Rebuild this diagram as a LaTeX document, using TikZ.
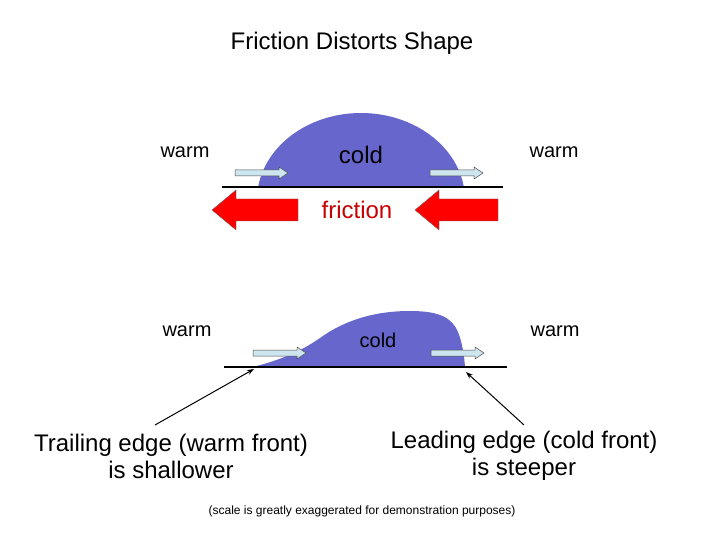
\documentclass[tikz,border=0pt]{standalone}
\usepackage{fontspec}
\setmainfont{Liberation Sans}
\usetikzlibrary{arrows.meta}
\definecolor{blob}{RGB}{102,102,204}
\definecolor{pale}{RGB}{204,229,238}
\definecolor{fred}{RGB}{255,0,0}
\definecolor{ftext}{RGB}{200,0,0}
\tikzset{
  lbl/.style={font=\fontsize{20}{24}\selectfont, inner sep=0pt},
  big/.style={font=\fontsize{24}{27}\selectfont, align=center, inner sep=0pt},
  ground/.style={line width=2.5pt},
  wind/.style={fill=pale, draw=black!70, line width=0.5pt},
  redarr/.style={fill=fred, draw=black!60, line width=0.4pt},
  pointer/.style={-{Stealth[length=7pt,width=5pt]}, line width=1pt}
}
\newcommand{\windarrow}[2]{% x,y left end
  \draw[wind] (#1,#2-3) -- (#1+44,#2-3) -- (#1+44,#2-6) -- (#1+53,#2) -- (#1+44,#2+6) -- (#1+44,#2+3) -- (#1,#2+3) -- cycle;}
\newcommand{\redarrow}[3]{% left tip x, right x, y
  \draw[redarr] (#1,#3) -- (#1+24,#3-20) -- (#1+24,#3-11) -- (#2,#3-11) -- (#2,#3+11) -- (#1+24,#3+11) -- (#1+24,#3+20) -- cycle;}
\begin{document}
\begin{tikzpicture}[x=1pt,y=-1pt]
\useasboundingbox (0,0) rectangle (720,540);
\node[big] (title) at (352,43) {Friction Distorts Shape};
% top dome
\begin{scope}
\clip (200,100) rectangle (520,187);
\fill[blob] (361,200) ellipse [x radius=104, y radius=87];
\end{scope}
\draw[ground] (222,187) coordinate (g1a) -- (503,187) coordinate (g1b);
\windarrow{235}{173}
\windarrow{430}{173}
\redarrow{212}{298}{210}
\redarrow{415}{498}{210}
\node[lbl] (w1) at (185,152) {warm};
\node[lbl, font=\fontsize{24}{27}\selectfont] (c1) at (361,155) {cold};
\node[lbl] (w2) at (554,152) {warm};
\node[lbl, text=ftext, font=\fontsize{24}{27}\selectfont] (fr) at (357,210) {friction};
% bottom shape
\fill[blob] (253,367) .. controls (280,360) and (300,352) .. (320,338)
  .. controls (345,320) and (375,311) .. (410,311)
  .. controls (440,311) and (452,318) .. (458,332)
  .. controls (462,342) and (464,354) .. (465,367) -- cycle;
\draw[ground] (224,367) coordinate (g2a) -- (507,367) coordinate (g2b);
\windarrow{253}{353}
\windarrow{431}{353}
\node[lbl] (w3) at (187,331) {warm};
\node[lbl] (c2) at (378,340) {cold};
\node[lbl] (w4) at (555,331) {warm};
\node[big] (trail) at (171,456) {Trailing edge (warm front)\\is shallower};
\node[big] (lead) at (524,456) {Leading edge (cold front)\\is steeper};
\coordinate (te) at (254,369);
\coordinate (le) at (466,372);
\draw[pointer] (155,425) -- (te);
\draw[pointer] (524,425) -- (le);
\node[font=\fontsize{12}{14}\selectfont] (note) at (362,511) {(scale is greatly exaggerated for demonstration purposes)};
\end{tikzpicture}
\end{document}
